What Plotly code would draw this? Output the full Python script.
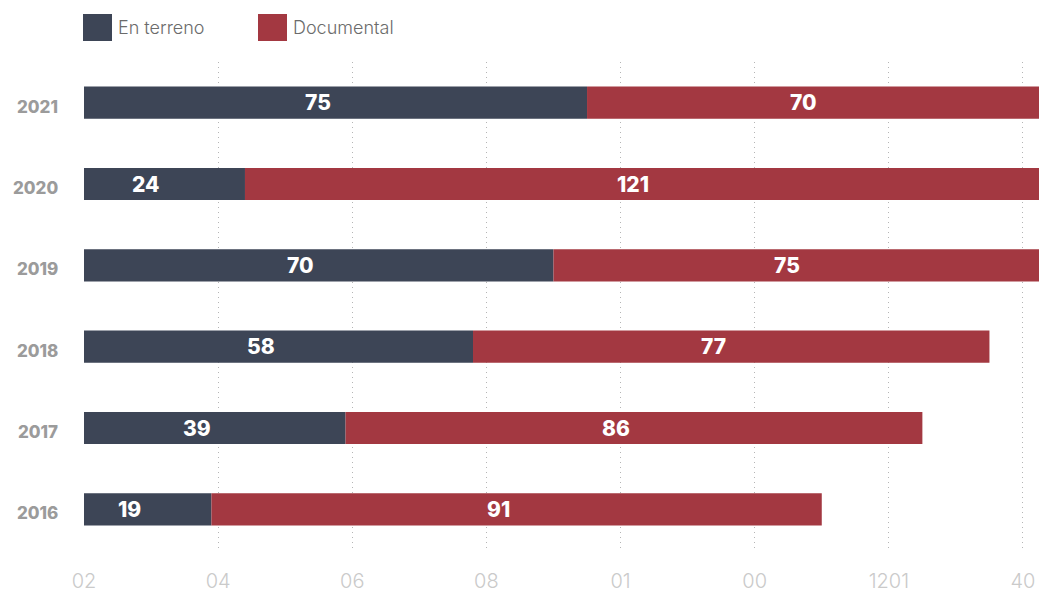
import plotly.graph_objects as go

years = ["2021", "2020", "2019", "2018", "2017", "2016"]
en_terreno = [75, 24, 70, 58, 39, 19]
documental = [70, 121, 75, 77, 86, 91]
series_names = ["En terreno", "Documental"]
tick_vals = [0, 20, 40, 60, 80, 100, 120, 140]
tick_text = ["02", "04", "06", "08", "01", "00", "1201", "40"]

DARK = "#3d4556"
RED = "#a33841"

# page has an 8px body margin, so the figure is drawn 8px in from the window corner
W, H = 1039, 581
L, T, B = 76, 54, 39
PW, PH = W - L, H - T - B
PX_PER_UNIT = 6.707
XMAX = PW / PX_PER_UNIT

ypos = list(range(len(years)))  # row index for each year (top to bottom)

fig = go.Figure()
fig.add_trace(go.Bar(y=ypos, x=en_terreno, orientation="h", name=series_names[0],
                     marker=dict(color=DARK, line=dict(width=0)), showlegend=False))
fig.add_trace(go.Bar(y=ypos, x=documental, base=en_terreno, orientation="h", name=series_names[1],
                     marker=dict(color=RED, line=dict(width=0)), showlegend=False))

annotations = []
lab_font = dict(family="Inter", size=21, color="white", weight=800)
year_font = dict(family="Inter", size=17, color="#9b9b9b", weight=800)
for yi, yname, a, b in zip(ypos, years, en_terreno, documental):
    annotations.append(dict(x=a / 2, y=yi, text=str(a), showarrow=False, xshift=-18,
                            font=lab_font, xref="x", yref="y"))
    annotations.append(dict(x=a + b / 2, y=yi, text=str(b), showarrow=False, xshift=-18,
                            font=lab_font, xref="x", yref="y"))
    annotations.append(dict(x=0, y=yi, xref="paper", yref="y", text=yname, showarrow=False,
                            xanchor="right", xshift=-24, yshift=-4, font=year_font))

# custom legend
leg_font = dict(family="Inter", size=18, color="#6b6b6b", weight=300)
shapes = []
for name, col, x0 in [(series_names[0], DARK, 83), (series_names[1], RED, 258)]:
    shapes.append(dict(type="rect", xref="paper", yref="paper",
                       x0=(x0 - 8 - L) / PW, x1=(x0 - 8 + 29 - L) / PW,
                       y0=(H - B - (41 - 8)) / PH, y1=(H - B - (14 - 8)) / PH,
                       fillcolor=col, line=dict(width=0), layer="above"))
    annotations.append(dict(xref="paper", yref="paper", x=(x0 - 8 + 33 - L) / PW,
                            y=(H - B - (27.5 - 8)) / PH, xanchor="left", yanchor="middle",
                            text=name, showarrow=False, font=leg_font))

fig.update_layout(
    width=W, height=H,
    margin=dict(l=L, r=0, t=T, b=B),
    plot_bgcolor="white", paper_bgcolor="white",
    barmode="overlay", bargap=0.605,
    annotations=annotations, shapes=shapes,
    showlegend=False,
)
fig.update_xaxes(range=[0, XMAX], tickvals=tick_vals, ticktext=tick_text, automargin=False,
                 showgrid=True, gridcolor="#b5b5b5", griddash="1px,4px", gridwidth=1,
                 zeroline=False, showline=False, ticks="", ticklabelstandoff=17,
                 tickfont=dict(family="Inter", size=20, color="#cacaca", weight=300))
fig.update_yaxes(range=[len(years) - 0.5, -0.5],
                 showgrid=False, zeroline=False, showline=False, automargin=False,
                 showticklabels=False, ticks="")

fig.write_html("out.html")
